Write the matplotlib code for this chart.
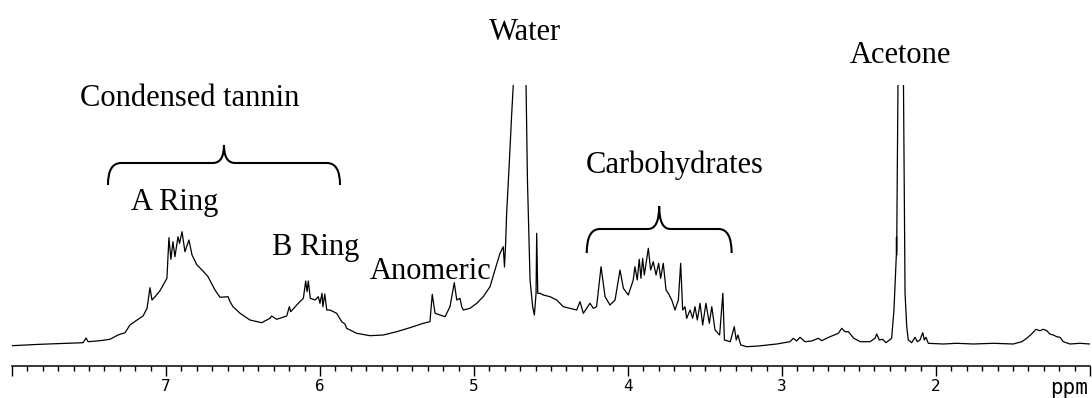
"""1H NMR spectrum of condensed tannin extract"""
import matplotlib.pyplot as plt
from matplotlib.path import Path
from matplotlib.patches import PathPatch
from matplotlib.ticker import MultipleLocator, FixedLocator, FixedFormatter
import matplotlib.transforms as mtransforms

# chemical shift (ppm) and intensity (arbitrary units)
ppm = [
    8.000, 7.818, 7.643, 7.539, 7.519, 7.506, 7.429, 7.364, 7.312, 7.266,
    7.234, 7.188, 7.149, 7.123, 7.104, 7.091, 7.071, 7.039, 6.994, 6.981,
    6.968, 6.955, 6.942, 6.922, 6.912, 6.896, 6.877, 6.851, 6.831, 6.799,
    6.766, 6.727, 6.682, 6.649, 6.597, 6.584, 6.565, 6.519, 6.455, 6.379,
    6.325, 6.314, 6.281, 6.216, 6.199, 6.190, 6.141, 6.108, 6.093, 6.084,
    6.076, 6.063, 6.032, 6.011, 6.000, 5.987, 5.981, 5.969, 5.956, 5.935,
    5.892, 5.859, 5.838, 5.827, 5.762, 5.675, 5.589, 5.502, 5.416, 5.329,
    5.286, 5.271, 5.253, 5.221, 5.188, 5.156, 5.128, 5.112, 5.091, 5.080,
    5.069, 5.026, 4.982, 4.940, 4.896, 4.864, 4.831, 4.810, 4.802, 4.795,
    4.788, 4.771, 4.755, 4.745, 4.737, 4.705, 4.671, 4.662, 4.653, 4.636,
    4.619, 4.608, 4.597, 4.593, 4.586, 4.571, 4.550, 4.506, 4.463, 4.420,
    4.377, 4.333, 4.312, 4.290, 4.247, 4.225, 4.204, 4.175, 4.149, 4.117,
    4.084, 4.052, 4.030, 3.998, 3.966, 3.955, 3.940, 3.927, 3.916, 3.905,
    3.894, 3.868, 3.853, 3.836, 3.818, 3.801, 3.788, 3.771, 3.753, 3.738,
    3.716, 3.695, 3.673, 3.658, 3.645, 3.630, 3.619, 3.597, 3.580, 3.565,
    3.550, 3.532, 3.515, 3.494, 3.472, 3.456, 3.435, 3.405, 3.384, 3.374,
    3.336, 3.310, 3.297, 3.286, 3.268, 3.229, 3.154, 3.034, 2.948, 2.927,
    2.905, 2.883, 2.851, 2.807, 2.764, 2.742, 2.688, 2.634, 2.612, 2.591,
    2.569, 2.534, 2.491, 2.429, 2.396, 2.385, 2.368, 2.346, 2.325, 2.288,
    2.273, 2.262, 2.2575, 2.2565, 2.2555, 2.247, 2.240, 2.229, 2.218, 2.211,
    2.201, 2.190, 2.180, 2.158, 2.136, 2.121, 2.104, 2.086, 2.076, 2.065,
    2.050, 1.953, 1.866, 1.758, 1.628, 1.498, 1.443, 1.411, 1.379, 1.351,
    1.325, 1.304, 1.281, 1.260, 1.238, 1.216, 1.195, 1.173, 1.130, 1.065,
    1.000,
]
intensity = [
    0.3, 1.7, 2.7, 3.3, 8, 4.3, 5.3, 6.7, 11, 13.3,
    21, 26, 30, 37.7, 58.3, 46, 49.3, 55.3, 67.7, 108.3,
    86.7, 104.3, 89.3, 109.3, 102.7, 114.3, 94.3, 106, 91, 81,
    76, 69.3, 56, 48.7, 49.3, 44.3, 39.3, 32.7, 26, 23.3,
    27.7, 30, 26.7, 30, 39.3, 34.3, 42.7, 47.7, 65, 54.3,
    65, 47.7, 46, 49.3, 42.7, 52.7, 39.3, 52, 36, 36,
    32.7, 24.3, 22, 17.7, 12.7, 10.3, 11, 14.3, 18.3, 22.7,
    24.3, 51.7, 32.7, 31, 29.3, 39.3, 63.3, 46, 47.7, 39.3,
    36, 37.7, 42.7, 49.3, 59.3, 76, 92.7, 99.3, 79, 101,
    132.7, 182.7, 232.7, 261, 330, 700, 330, 261, 166, 66,
    39.3, 31, 52.7, 112.7, 52.7, 52.7, 51, 49.3, 46, 39.3,
    37.7, 36, 44.3, 32.7, 42.7, 37.7, 39.3, 79.3, 49.3, 41,
    46, 76, 57.7, 51, 66, 79.3, 66, 86.7, 67.7, 87.7,
    71, 97.7, 76, 84.3, 71, 82.7, 67.7, 82.7, 56, 52.7,
    46, 36, 46, 82.7, 36, 39.3, 27.7, 36, 27.7, 39.3,
    26, 42.7, 21, 42.7, 22.7, 39.3, 16, 11, 52.7, 6,
    4.3, 19.3, 6, 11, 1, -0.7, 0, 2, 4.3, 7.7,
    5, 8.7, 4.3, 5, 7.7, 5.3, 9.3, 12.7, 17.7, 14.3,
    14.3, 7.7, 4.3, 4.3, 7.7, 12, 6, 6.7, 3.3, 7.7,
    36, 76, 91, 109, 91, 261, 400, 700, 400, 261,
    52.7, 19.3, 6, 3.3, 8.7, 4.3, 6, 13.3, 6, 8.7,
    2.7, 2, 2.7, 2, 2.7, 2, 4.3, 7.7, 12, 16.7,
    15.3, 16.7, 15.3, 12, 11, 9.3, 8.7, 4.3, 2, 2.7,
    2,
]

major_ticks = [8, 7, 6, 5, 4, 3, 2, 1]
major_labels = ['', '7', '6', '5', '4', '3', '2', '']

# label text, centre ppm, baseline height
labels = ['Condensed tannin', 'A Ring', 'B Ring', 'Anomeric',
          'Water', 'Carbohydrates', 'Acetone']
label_ppm = [6.844, 6.942, 6.026, 5.279, 4.666, 3.695, 2.234]
label_y = [240, 136, 91, 67, 306, 173, 283]

# braces: left ppm, right ppm, end height, arm height, tip height
brace_left = [7.377, 4.268]
brace_right = [5.870, 3.327]
brace_end = [161, 93]
brace_arm = [183, 117]
brace_tip = [201, 140]


def draw_brace(ax, xl, xr, y_end, y_arm, y_tip, r=0.085, r2=0.072):
    xm = (xl + xr) / 2
    verts = [(xl, y_end), (xl, y_arm), (xl - r, y_arm),
             (xm + r2, y_arm), (xm, y_arm), (xm, y_tip),
             (xm, y_arm), (xm - r2, y_arm),
             (xr + r, y_arm), (xr, y_arm), (xr, y_end)]
    codes = [Path.MOVETO, Path.CURVE3, Path.CURVE3,
             Path.LINETO, Path.CURVE3, Path.CURVE3,
             Path.CURVE3, Path.CURVE3,
             Path.LINETO, Path.CURVE3, Path.CURVE3]
    patch = PathPatch(Path(verts, codes), facecolor='none',
                      edgecolor='black', lw=1.5, clip_on=False)
    ax.add_patch(patch)


def main():
    fig = plt.figure(figsize=(10.92, 3.98), dpi=100)
    ax = fig.add_axes([12 / 1092, 32 / 398, 1078 / 1092, 281 / 398])

    ax.plot(ppm, intensity, color='black', lw=0.9)
    ax.set_xlim(8.0, 1.0)
    ax.set_ylim(-20, 261)

    for s in ['left', 'right', 'top']:
        ax.spines[s].set_visible(False)
    ax.spines['bottom'].set_linewidth(1.1)
    ax.set_yticks([])

    ax.xaxis.set_major_locator(FixedLocator(major_ticks))
    ax.xaxis.set_major_formatter(FixedFormatter(major_labels))
    ax.xaxis.set_minor_locator(MultipleLocator(0.1))
    ax.tick_params(axis='x', which='major', direction='out', length=7,
                   width=1.0, pad=2.5, labelsize=11.5)
    ax.tick_params(axis='x', which='minor', direction='out', length=3.8,
                   width=1.0)
    for lab in ax.get_xticklabels():
        lab.set_family('DejaVu Sans Mono')

    trans = mtransforms.blended_transform_factory(ax.transAxes, ax.transAxes)
    ax.text(0.998, -0.1, 'ppm', transform=trans, ha='right',
            va='baseline', family='DejaVu Sans Mono', fontsize=15)

    for txt, x, y in zip(labels, label_ppm, label_y):
        ax.text(x, y, txt, ha='center', va='baseline',
                family='Liberation Serif', fontsize=22, clip_on=False)

    for xl, xr, ye, ya, yt in zip(brace_left, brace_right, brace_end,
                                  brace_arm, brace_tip):
        draw_brace(ax, xl, xr, ye, ya, yt)

    fig.savefig('out.png', dpi=100)
    plt.close(fig)


if __name__ == "__main__":
    main()
